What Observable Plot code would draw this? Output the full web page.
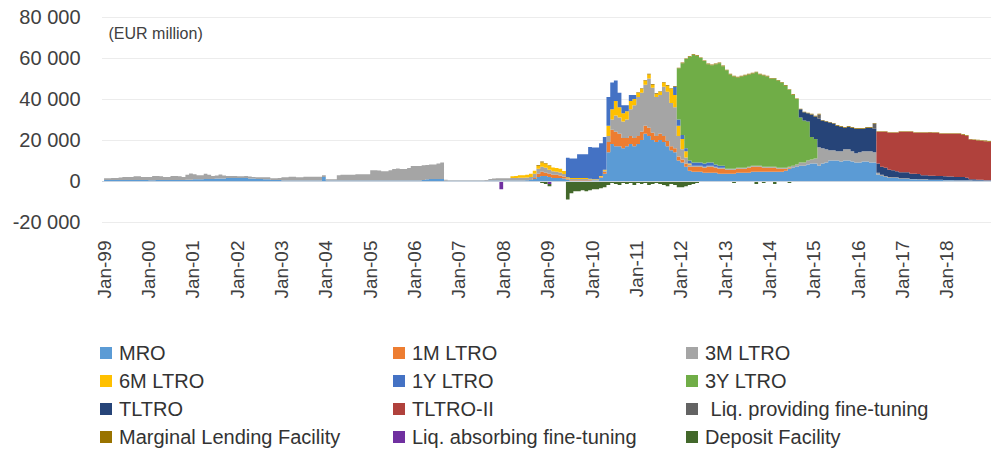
<!DOCTYPE html>
<html>
<head>
<meta charset="utf-8">
<script src="https://cdn.jsdelivr.net/npm/d3@7"></script>
<script src="https://cdn.jsdelivr.net/npm/@observablehq/plot@0.6"></script>
<style>
  html, body { margin: 0; padding: 0; background: #fff; }
  #wrap { position: relative; width: 991px; height: 454px; font-family: "Liberation Sans", Arial, sans-serif; color: #333; }
  #legend { position: absolute; left: 0; top: 0; width: 991px; height: 454px; pointer-events: none; }
  .item { position: absolute; display: flex; align-items: center; font-size: 20px; white-space: pre; line-height: 1; }
  .sw { width: 12px; height: 12px; margin-right: 7px; flex: none; }
</style>
</head>
<body>
<div id="wrap"><div id="chart"></div><div id="legend"></div></div>
<script>
// ---------- DATA (EUR million, monthly) ----------
const seriesNames = ["MRO", "1M LTRO", "3M LTRO", "6M LTRO", "1Y LTRO", "3Y LTRO", "TLTRO", "TLTRO-II",
  " Liq. providing fine-tuning", "Marginal Lending Facility", "Liq. absorbing fine-tuning", "Deposit Facility"];
const seriesColors = ["#5B9BD5", "#ED7D31", "#A5A5A5", "#FFC000", "#4472C4", "#70AD47", "#264478", "#B0413C",
  "#636363", "#997300", "#7030A0", "#43682B"];
const yTicks = [-20000, 0, 20000, 40000, 60000, 80000];
const xTickYears = [1999,2000,2001,2002,2003,2004,2005,2006,2007,2008,2009,2010,2011,2012,2013,2014,2015,2016,2017,2018];

// MRO, Jan 1999 - Dec 2018
const mro = [
  500,500,500,500,500,500,500,500,500,500,500,500,
  400,400,500,500,500,500,500,500,500,500,600,600,
  800,800,800,1000,1000,1000,1200,1200,1200,1500,1500,1500,
  1500,1500,1500,1200,1200,1000,1000,800,800,500,500,500,
  300,300,300,300,300,300,300,300,300,300,300,2000,
  200,200,200,300,300,300,300,300,300,300,300,300,
  300,300,300,300,300,300,300,300,300,300,300,300,
  300,300,500,800,1000,1000,1000,1000,100,100,100,100,
  100,100,100,100,100,100,100,100,200,200,200,200,
  200,200,300,300,300,300,400,500,1000,2000,2500,2500,
  2000,1500,1500,1500,1200,500,300,300,300,300,300,300,
  300,300,1500,3500,14000,18000,17000,17000,16000,17000,18000,17000,
  18000,20000,23000,22000,20000,19000,20000,19000,17000,15000,14000,10000,
  9000,7000,5000,4500,4500,4500,4000,4000,4000,4000,3500,3500,
  3500,3500,3500,4000,4000,4000,4000,4500,4500,4500,4500,4500,
  4500,4500,4500,4500,5000,6000,6500,7000,7500,7500,8000,8500,
  8500,7500,8500,9000,10000,10000,10000,9500,10000,10000,9500,9000,
  9000,9500,9500,9000,9000,3000,2500,2000,1500,1500,1500,1000,
  1000,1000,800,800,700,600,600,500,500,500,500,400,
  400,400,300,300,300,300,300,300,300,300,200,200
];
// 3M LTRO, Jan 1999 - Dec 2018
const ltro3m = [
  800,800,1000,1000,1200,1500,1500,1500,1800,1800,1500,1500,
  1500,2000,2000,1800,1500,1500,2000,2000,1800,1500,2500,3000,
  2500,2000,2000,2500,2000,1500,1500,2000,1500,1000,1000,1000,
  800,800,1000,1000,800,800,800,1000,1000,800,800,1000,
  1500,1500,1800,1800,1500,1500,1800,1800,1800,1800,1800,800,
  600,600,600,2500,2700,2800,2800,2800,3000,3000,3000,3000,
  5000,5000,4800,4500,4500,5000,5500,5800,5500,5500,6000,7000,
  7000,7000,7200,7000,7000,7000,7500,8000,500,300,300,300,
  300,300,300,300,300,300,300,400,800,1000,1200,1200,
  1200,1200,1200,1200,1300,1300,1300,1500,2000,2500,2500,2500,
  2000,1800,1500,1500,1200,500,500,500,500,500,500,300,
  300,300,300,500,3000,5000,8000,8000,8000,9000,13000,16000,
  19000,19000,20000,24000,22000,19000,19000,24000,24000,21000,20000,10000,
  5000,3000,1000,500,500,500,500,500,500,500,500,500,
  500,500,500,500,500,500,500,500,500,500,500,500,
  500,500,500,500,500,500,1000,1000,1500,1500,2000,2000,
  2500,9000,7500,6500,5000,5000,4500,5000,5500,5500,5000,4500,
  5000,5000,5000,5500,5000,1000,500,500,500,300,300,300,
  300,300,200,200,200,200,200,100,100,100,100,100,
  100,100,100,100,100,100,100,0,0,0,0,0
];
// 1M LTRO, from Sep 2008
const ltro1mStart = "2008-09";
const ltro1m = [
  500,1500,2000,1500,
  1500,1500,1500,1200,1000,300,200,200,200,200,200,200,
  0,0,300,1000,5000,7000,7000,6000,5000,4000,4000,4000,
  4000,4000,4000,4000,3500,3000,3000,3000,2500,2000,2000,2000,
  1500,1500,2000,2500,2500,2500,2500,3000,3000,2500,2500,2500,
  2000,2000,2000,2000,2000,2000,2500,2500,2500,2500,2000,2000,
  2000,2000,1500,1500,1000,500
];
// 6M LTRO, from Mar 2008
const ltro6mStart = "2008-03";
const ltro6m = [
  800,1000,1200,1200,1300,1500,1500,1500,2000,2000,
  2000,1800,1800,1800,1500,500,500,500,500,500,500,300,
  300,300,300,500,5000,5000,7000,5000,4000,4000,4000,3000,
  2000,2000,2000,2000,1500,1500,1500,2000,3000,7000,6000,5000,
  5000,3000,500
];
// 1Y LTRO, from Jun 2009
const ltro1yStart = "2009-06";
const ltro1y = [
  9500,9500,9500,11500,11500,11500,15500,
  15500,15500,16000,16000,14000,13000,10000,7000,4000,3000,3000,2000,
  0,0,0,0,0,0,0,0,0,0,4000,3000,
  2000,1500,1500,1500,1500,1500,1500,1500,1500,1000,1000,1000
];
// 3Y LTRO, from Dec 2011
const ltro3yStart = "2011-12";
const ltro3y = [
  25000,
  35000,43500,50500,52500,52000,51000,50000,48000,47500,49000,50000,48500,
  48000,46000,45000,44000,44500,45000,45000,45000,45500,44500,44500,44000,
  43000,43000,42500,41500,40000,37500,34500,32000,22000,20500,19000,11000,
  9500
];
// TLTRO, from Sep 2014
const tltroStart = "2014-09";
const tltro = [
  4000,4000,4000,11000,
  11000,14000,13500,13500,13500,13000,12500,12000,10500,11000,11500,12000,
  11500,11000,11500,11500,11500,4500,4000,4000,3500,3500,3000,3000,
  3000,3000,2500,2500,2500,2000,2000,2000,2000,1800,1800,1800,
  1700,1700,1500,1500,1500,1200,500,500,300,300,200,200
];
// TLTRO-II, from Jun 2016
const tltro2Start = "2016-06";
const tltro2 = [
  15500,17000,17500,18000,18200,18700,19700,
  19700,19700,20500,20000,20100,20700,20700,21000,20900,21100,20600,20700,
  20800,20800,21100,21100,20600,20400,19300,19200,19200,19000,19000,18800
];
// Liquidity-providing fine-tuning, from Feb 2015
const liqProvStart = "2015-02";
const liqProv = [2000,0,0,0,0,0,0,0,0,0,0,0,0,0,0,2500];
// Marginal lending facility, from Oct 2008
const mlfStart = "2008-10";
const mlf = [
  300,500,300,
  200,0,0,0,0,0,0,0,0,0,0,0,
  0,0,0,0,0,0,0,0,0,0,0,0,
  300,300,300,300,300,300,300,300,300,300,300,300,
  300,300,300,300,300,300,300,300,300,300,300,300,
  300,300,300,300,300,300,300,300,300,300,300,300,
  300,300,300,300,300,300,300,300,300,300,300,300,
  300,300,300,300,300,300,300,300,300,300,300,300,
  300,300,300,300,300,300,300,300,300,300,300,300,
  300,300,300,300,300,300,300,300,300,300,300,300,
  300,300,300,300,300,300,300,300,300,300,300,300
];
// Liquidity-absorbing fine-tuning, from Dec 2007
const liqAbsStart = "2007-12";
const liqAbs = [-4000,0,0,0,0,0,0,0,0,0,0,0,0,-1500];
// Deposit facility, from Oct 2008
const depStart = "2008-10";
const deposit = [
  -300,-1000,-1500,
  -1000,-500,-300,-300,-300,-9000,-6000,-5000,-5000,-4500,-5000,-4500,
  -4000,-4000,-3500,-3000,-2000,-1000,-1500,-2000,-1000,-1500,-1000,-2000,
  -1000,-1500,-1000,-2000,-1500,-1000,-1500,-2000,-2500,-1500,-2000,-3000,
  -3000,-2500,-2000,-1500,-1000,-500,-300,-300,-200,-200,-200,-200,
  -500,-300,-1000,-500,-300,-200,-500,-300,-1500,-500,-1000,-500,
  -500,-1500,-500,-300,-200,-1000,-300
];

// ---------- TABLE ----------
const months = d3.utcMonth.range(new Date(Date.UTC(1999, 0, 1)), new Date(Date.UTC(2019, 0, 1)));
const endDate = new Date(Date.UTC(2019, 0, 1));
const defs = [
  ["MRO", "1999-01", mro],
  ["1M LTRO", ltro1mStart, ltro1m],
  ["3M LTRO", "1999-01", ltro3m],
  ["6M LTRO", ltro6mStart, ltro6m],
  ["1Y LTRO", ltro1yStart, ltro1y],
  ["3Y LTRO", ltro3yStart, ltro3y],
  ["TLTRO", tltroStart, tltro],
  ["TLTRO-II", tltro2Start, tltro2],
  [" Liq. providing fine-tuning", liqProvStart, liqProv],
  ["Marginal Lending Facility", mlfStart, mlf],
  ["Liq. absorbing fine-tuning", liqAbsStart, liqAbs],
  ["Deposit Facility", depStart, deposit]
];
const table = [];
for (const [name, start, values] of defs) {
  const [sy, sm] = start.split("-").map(Number);
  const off = (sy - 1999) * 12 + (sm - 1);
  const get = i => (i - off >= 0 && i - off < values.length) ? values[i - off] : 0;
  months.forEach((d, i) => table.push({date: d, series: name, value: get(i)}));
  table.push({date: endDate, series: name, value: get(months.length - 1)});
}

const fmtY = d => (d < 0 ? "-" : "") + d3.format(",")(Math.abs(d)).replace(/,/g, " ");
const xTicks = xTickYears.map(y => new Date(Date.UTC(y, 0, 1)));

const chart = Plot.plot({
  width: 991,
  height: 325,
  marginLeft: 102,
  marginRight: 0,
  marginTop: 17,
  marginBottom: 103,
  style: {fontFamily: "'Liberation Sans', Arial, sans-serif", color: "#404040", background: "#fff"},
  x: {type: "utc", domain: [new Date(Date.UTC(1998, 11, 15)), endDate]},
  y: {domain: [-20000, 80000]},
  color: {domain: seriesNames, range: seriesColors},
  marks: [
    Plot.ruleY(yTicks, {stroke: "#ececec", strokeWidth: 1}),
    Plot.areaY(table, {x: "date", y: "value", z: "series", fill: "series", curve: "step-after", order: seriesNames}),
    Plot.ruleY([0], {stroke: "#c9d3de", strokeWidth: 1}),
    Plot.axisY({ticks: yTicks, tickSize: 0, tickPadding: 22, tickFormat: fmtY, fontSize: 20, label: null}),
    Plot.axisX({ticks: xTicks, tickSize: 0, tickPadding: 18, tickRotate: -90, tickFormat: d3.utcFormat("Jan-%y"), fontSize: 19, label: null}),
    Plot.text(["(EUR million)"], {frameAnchor: "top-left", dx: 6, dy: 10, fontSize: 16, fill: "#404040"})
  ]
});
document.getElementById("chart").appendChild(chart);

// ---------- LEGEND ----------
const colX = [100, 393, 686];
const rowY = [353, 381, 409, 437];
const legend = document.getElementById("legend");
seriesNames.forEach((name, i) => {
  const item = document.createElement("div");
  item.className = "item";
  item.style.left = colX[i % 3] + "px";
  item.style.top = (rowY[Math.floor(i / 3)] - 10) + "px";
  item.style.height = "20px";
  const sw = document.createElement("span");
  sw.className = "sw";
  sw.style.background = seriesColors[i];
  const tx = document.createElement("span");
  tx.textContent = name;
  item.appendChild(sw);
  item.appendChild(tx);
  legend.appendChild(item);
});
</script>
</body>
</html>
